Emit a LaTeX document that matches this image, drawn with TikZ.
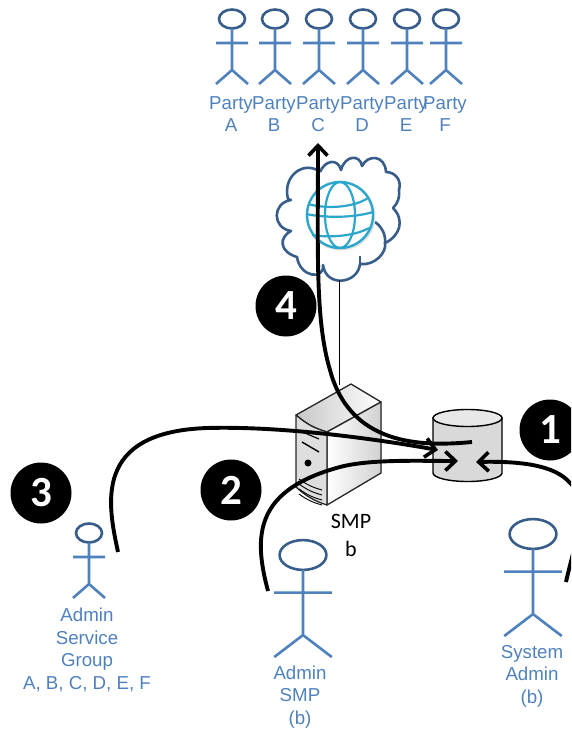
\documentclass[tikz,border=0pt]{standalone}
\usepackage{fontspec}
\setmainfont{Liberation Sans}
\newfontfamily\numfont{Carlito}
\usetikzlibrary{arrows.meta}
\definecolor{actorblue}{HTML}{4F81BD}
\definecolor{headblue}{HTML}{385D8A}
\definecolor{globeblue}{HTML}{2CA6CB}
\tikzset{
    actor/.pic={
        \draw[headblue, line width=2.6pt] (0,0) ellipse (13 and 9.5);
        \draw[actorblue, line width=2.6pt] (0,9.5) -- (0,51) (-16,24) -- (16,24) (-16,65) -- (0,51) -- (16,65);
    },
    actorlabel/.style={text=actorblue, align=center, font=\fontsize{18.7}{22.5}\selectfont, inner sep=0pt},
    badge/.style={circle, fill=black, minimum size=61pt, inner sep=0pt, text=white, font=\numfont\fontsize{43}{43}\selectfont\bfseries},
    smplabel/.style={font=\numfont\fontsize{22}{28}\selectfont, align=center, inner sep=0pt},
    flow/.style={line width=3.9pt, -{Straight Barb[length=10pt, width=19pt, line width=3.6pt]}},
    cloudline/.style={draw=headblue, line width=2.6pt, line join=round},
    globeline/.style={draw=globeblue, line width=2.2pt},
    serverline/.style={draw=black!85, line width=1.3pt, line join=round}
}
\begin{document}
\begin{tikzpicture}[x=1pt, y=-1pt]
    \useasboundingbox (0,0) rectangle (571,730);
    \clip (0,0) rectangle (571,730);

    % parties
    \foreach \px/\pn in {232/A, 275/B, 319/C, 363/D, 407/E, 446/F} {
        \pic at (\px,19) {actor};
        \node[actorlabel] (party\pn) at (\px-1,114) {Party\\\pn};
    }

    % cloud
    \coordinate (cloudbottom) at (339,280);
    \filldraw[cloudline, fill=white] (320,172) .. controls (325,160) and (338,158) .. (341,170)
        .. controls (345,155) and (360,154) .. (362,166)
        .. controls (368,154) and (385,155) .. (386,172)
        .. controls (395,172) and (402,180) .. (399,190)
        .. controls (400,197) and (398,203) .. (393,208)
        .. controls (405,220) and (400,236) .. (385,243)
        .. controls (387,252) and (375,266) .. (360,264)
        .. controls (358,284) and (326,288) .. (323,265)
        .. controls (325,280) and (300,278) .. (297,257)
        .. controls (280,252) and (278,238) .. (291,231)
        .. controls (272,228) and (272,203) .. (291,200)
        -- (288,199)
        .. controls (282,175) and (305,160) .. (320,172);
    \draw[cloudline] (375,222) .. controls (382,227) and (386,235) .. (385,243);
    \draw[cloudline] (360,264) -- (360,256);

    % globe
    \coordinate (globe) at (340,215);
    \fill[black!12] (globe) ++(1,1) circle (34.5);
    \filldraw[globeline, fill=white, line width=2.4pt] (globe) circle (33);
    \draw[globeline] (globe) ellipse (15 and 33);
    \draw[globeline] (308,204) .. controls (325,209) and (353,208) .. (368,198);
    \draw[globeline] (306,214) .. controls (325,218) and (353,218) .. (373,212);
    \draw[globeline] (312,235) .. controls (330,238) and (355,236) .. (369,228);

    % server
    \coordinate (servertop) at (339,385);
    \draw[line width=0.8pt] (cloudbottom) -- (servertop);
    \fill[left color=black!22, right color=white, serverline] (296,415) -- (351,384) -- (381,402) -- (327,432) to[bend left=12] cycle;
    \fill[left color=white, right color=black!18, serverline] (327,432) -- (381,402) -- (381,473) -- (327,505) -- cycle;
    \filldraw[fill=black!13, serverline] (296,415) to[bend right=12] (327,432) -- (327,505) to[bend left=12] (296,487) -- cycle;
    \draw[line width=1.1pt] (300,431) -- (319,439);
    \draw[line width=1.4pt] (302,442) -- (319,452);
    \fill (308,463) circle (3.5);
    \foreach \dy in {0,5,10,15} {
        \draw[line width=0.9pt] (299,479+\dy) to[bend right=10] (322,492+\dy-2);
    }
    \node[smplabel] (smp) at (351,535) {SMP\\b};

    % database
    \filldraw[fill=black!15, draw=black, line width=1.4pt] (433,418) -- (433,473) arc[start angle=180, end angle=360, x radius=34.5, y radius=-8.5] -- (502,418) -- cycle;
    \filldraw[fill=black!9, draw=black, line width=1.4pt] (467.5,418) ellipse (34.5 and 8.5);

    % actors
    \pic at (89,533) {actor};
    \pic[xscale=1.8, yscale=1.57] at (303,555) {actor};
    \pic[xscale=1.8, yscale=1.57] at (533,534) {actor};
    \node[actorlabel] (adminsg) at (87,650) {Admin\\Service\\Group\\A, B, C, D, E, F};
    \node[actorlabel] (adminsmp) at (300,697) {Admin\\SMP\\(b)};
    \node[actorlabel] (sysadmin) at (532,676) {System\\Admin\\(b)};

    % flows
    \coordinate (sysstart) at (566,582);
    \coordinate (sysend) at (476,462);
    \coordinate (smpstart) at (268,591);
    \coordinate (smpend) at (458,461);
    \coordinate (sgstart) at (118,552);
    \coordinate (sgend) at (438,450);
    \coordinate (dbstart) at (472,442);
    \coordinate (partyend) at (318,143);
    \draw[flow] (sysstart) .. controls (574,545) and (592,500) .. (570,483) .. controls (555,465) and (520,461) .. (sysend);
    \draw[flow] (smpstart) .. controls (253,535) and (255,490) .. (340,467) .. controls (370,459) and (420,461) .. (smpend);
    \draw[flow] (sgstart) .. controls (108,505) and (92,432) .. (207,428) .. controls (280,426) and (370,438) .. (sgend);
    \draw[flow] (dbstart) .. controls (420,447) and (350,445) .. (330,370) .. controls (315,320) and (318,250) .. (partyend);

    % badges
    \node[badge] (one) at (550,430) {1};
    \node[badge] (two) at (231,490) {2};
    \node[badge] (three) at (41,493) {3};
    \node[badge] (four) at (286,306) {4};
\end{tikzpicture}
\end{document}
